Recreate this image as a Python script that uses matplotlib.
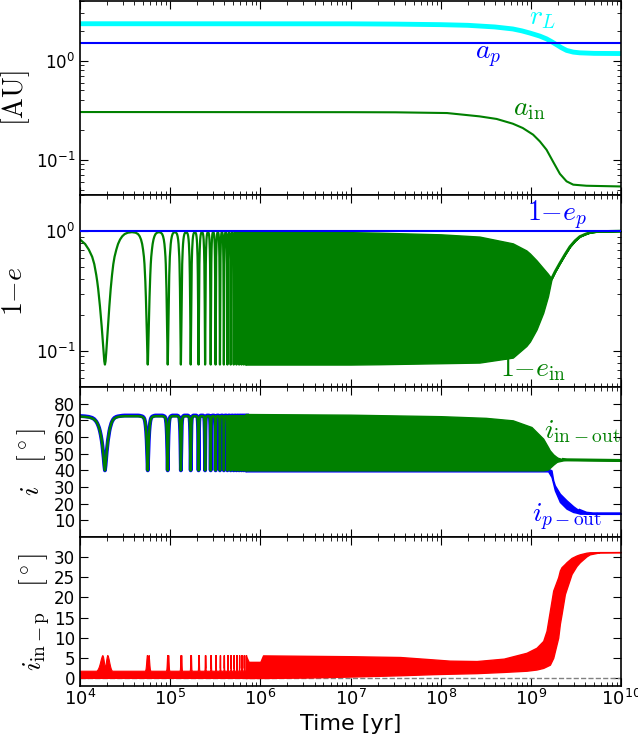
import numpy as np
import matplotlib
matplotlib.use('Agg')
import matplotlib.pyplot as plt
from matplotlib.ticker import LogLocator, NullFormatter

plt.rcParams['font.family'] = ['DejaVu Sans']
plt.rcParams['xtick.direction'] = 'in'
plt.rcParams['ytick.direction'] = 'in'
plt.rcParams['xtick.major.size'] = 6
plt.rcParams['ytick.major.size'] = 6
plt.rcParams['xtick.minor.size'] = 3
plt.rcParams['ytick.minor.size'] = 3
plt.rcParams['axes.linewidth'] = 1.2

# ---- panel 1: distances [AU] ----
a_p = 1.5
logt_rL = [4.0, 7.0, 7.5, 8.0, 8.3, 8.6, 8.8, 8.9, 8.99, 9.1, 9.174, 9.23, 9.285, 9.34, 9.396, 9.47, 9.543, 9.7, 10.0]
r_L = [2.36, 2.355, 2.34, 2.31, 2.275, 2.19, 2.09, 2.0, 1.90, 1.77, 1.66, 1.555, 1.45, 1.35, 1.27, 1.22, 1.20, 1.185, 1.18]
logt_ain = [4.0, 7.0, 7.5, 8.07, 8.43, 8.62, 8.80, 8.91, 9.025, 9.10, 9.174, 9.248, 9.322, 9.396, 9.47, 9.617, 10.0]
a_in = [0.303, 0.302, 0.301, 0.296, 0.274, 0.258, 0.231, 0.209, 0.179, 0.153, 0.126, 0.095, 0.072, 0.0605, 0.056, 0.0546, 0.0537]

# ---- resolved Kozai cycles (early times) ----
period = 3.75e4
dip_t = [1.89e4, 5.64e4, 9.39e4, 1.314e5, 1.689e5, 2.064e5, 2.439e5, 2.814e5, 3.189e5,
         3.564e5, 3.939e5, 4.314e5, 4.689e5, 5.064e5, 5.439e5, 5.814e5, 6.189e5,
         6.564e5, 6.939e5]
phase = [0, 0.008, 0.016, 0.024, 0.032, 0.04, 0.05, 0.06, 0.07, 0.08, 0.09, 0.1,
         0.12, 0.14, 0.17, 0.2, 0.237, 0.28, 0.33, 0.4, 0.5]
ein_prof = [0.077, 0.082, 0.095, 0.113, 0.135, 0.16, 0.195, 0.235, 0.28, 0.33, 0.38, 0.43,
            0.53, 0.61, 0.70, 0.78, 0.85, 0.905, 0.945, 0.97, 0.98]
iin_prof = [40, 43, 47.5, 51.5, 55, 58, 61, 63.5, 65.5, 67, 68.3, 69.3,
            70.5, 71.2, 71.8, 72.1, 72.3, 72.4, 72.5, 72.5, 72.5]
ip_prof = [40, 43, 47.5, 51.5, 55, 58, 61, 63.5, 65.5, 67, 68.3, 69.3,
           70.7, 71.5, 72.1, 72.4, 72.6, 72.8, 72.9, 72.9, 72.9]
rin_prof = [2.5, 3.3, 4.4, 5.3, 5.7, 5.4, 4.7, 3.8, 3.0, 2.4, 2.0, 1.8,
            1.8, 1.8, 1.8, 1.8, 1.8, 1.8, 1.8, 1.8, 1.8]

# ---- unresolved (dense) region envelopes ----
ep = 1.0
logt_e = [5.835, 7.0, 7.33, 8.0, 8.43, 8.80, 8.95, 8.99, 9.063, 9.137, 9.19, 9.23, 9.27, 9.322, 9.38, 9.433, 9.49, 9.543, 9.6, 9.65, 9.728, 10.0]
ein_hi = [0.985, 0.98, 0.97, 0.94, 0.90, 0.79, 0.69, 0.65, 0.57, 0.49, 0.44, 0.40, 0.46, 0.54, 0.64, 0.74, 0.83, 0.90, 0.94, 0.97, 0.99, 1.0]
ein_lo = [0.077, 0.077, 0.0775, 0.079, 0.080, 0.088, 0.11, 0.12, 0.151, 0.208, 0.286, 0.40, 0.46, 0.54, 0.64, 0.74, 0.83, 0.90, 0.94, 0.97, 0.99, 1.0]

logt_i = [5.835, 7.0, 8.0, 8.5, 8.80, 9.007, 9.137, 9.19, 9.21, 9.25, 9.285, 9.3, 9.36, 9.40, 10.0]
iin_hi = [73.8, 73.4, 72.5, 71.5, 70, 66, 59, 54, 52, 49.5, 48, 47.5, 46.6, 46.4, 46]
iin_lo = [40, 40, 40, 40, 40, 40, 40, 40.5, 41.5, 43.5, 45, 45.3, 46, 46.1, 46]

logt_ip = [5.835, 9.137, 9.192, 9.229, 9.248, 9.266, 9.322, 9.396, 9.469, 9.506, 9.543, 9.617, 9.691, 10.0]
ip_hi = [41, 41, 41, 40, 34, 31, 26, 22, 18.5, 17, 16, 14.4, 14, 14]
ip_lo = [39.4, 39.4, 39.4, 36, 32, 28, 21, 17, 15, 14.6, 14, 14, 14, 14]

logt_r = [5.835, 5.85, 5.87, 6.0, 6.03, 6.5, 7.0, 7.55, 7.92, 8.1, 8.4, 8.7, 8.952, 9.063, 9.137, 9.174,
          9.211, 9.248, 9.303, 9.322, 9.340, 9.377, 9.396, 9.451, 9.506, 9.543, 9.617, 9.654, 9.765, 10.0]
rin_hi = [5.6, 5.0, 4.0, 4.0, 5.6, 5.5, 5.4, 5.2, 4.6, 4.3, 4.2, 4.8, 6.25, 7.5, 9.2, 11.7,
          16.7, 21.7, 25.0, 26.7, 27.5, 28.3, 28.75, 29.8, 30.4, 30.7, 31.1, 31.2, 31.25, 31.25]
rin_lo = [0.0, 0.0, 0.0, 0.0, 0.0, 0.1, 0.35, 0.67, 0.95, 1.05, 1.2, 1.5, 1.8, 2.1, 2.5, 2.9,
          3.3, 5.0, 10.0, 13.5, 15.8, 20.8, 22.1, 25.8, 27.8, 28.75, 30.2, 30.7, 31.2, 31.25]


def cycles(prof):
    # lay the read profile of one cycle at each dip time
    ph = np.array(phase)
    pr = np.array(prof)
    xs, ys = [], []
    for k, t0 in enumerate(dip_t):
        keep = ph[::-1] <= (0.237 if k == 0 else 0.5)
        xs += list(t0 - ph[::-1][keep] * period) + list(t0 + ph[1:] * period)
        ys += list(pr[::-1][keep]) + list(pr[1:])
    return np.array(xs), np.array(ys)


def T(lt):
    return 10 ** np.array(lt)


fig = plt.figure(figsize=(6.38, 7.41), dpi=100)
L, W = 0.1254, 0.848
ax1 = fig.add_axes([L, 0.7368, W, 0.2618])
ax2 = fig.add_axes([L, 0.4777, W, 0.2591], sharex=ax1)
ax3 = fig.add_axes([L, 0.2753, W, 0.2024], sharex=ax1)
ax4 = fig.add_axes([L, 0.0742, W, 0.2011], sharex=ax1)

cm = dict(math_fontfamily='cm')

# panel 1
ax1.plot(T(logt_rL), r_L, color='cyan', lw=3.5)
ax1.axhline(a_p, color='b', lw=1.5)
ax1.plot(T(logt_ain), a_in, color='g', lw=1.5)
ax1.set_yscale('log')
ax1.set_ylim(0.044, 4.0)
ax1.set_ylabel(r'$[\mathrm{AU}]$', fontsize=20, **cm)
ax1.yaxis.set_label_coords(-0.089, 0.5)
ax1.text(1.35e9, 2.75, r'$r_L$', color='cyan', fontsize=20, ha='center', va='center', **cm)
ax1.text(3.4e8, 1.12, r'$a_p$', color='b', fontsize=20, ha='center', va='center', **cm)
ax1.text(9.5e8, 0.33, r'$a_{\rm in}$', color='g', fontsize=20, ha='center', va='center', **cm)

# panel 2
x, y = cycles(ein_prof)
ax2.plot(x, y, color='g', lw=1.6, zorder=2)
ax2.fill_between(T(logt_e), ein_lo, ein_hi, color='g', lw=1, zorder=2)
ax2.plot(T(logt_e[11:]), ein_hi[11:], color='g', lw=2, zorder=2)
ax2.axhline(ep, color='b', lw=1.5, zorder=3)
ax2.set_yscale('log')
ax2.set_ylim(0.05, 2.0)
ax2.set_ylabel(r'$1{-}e$', fontsize=20, **cm)
ax2.yaxis.set_label_coords(-0.096, 0.5)
ax2.text(1.95e9, 1.36, r'$1{-}e_p$', color='b', fontsize=20, ha='center', va='center', **cm)
ax2.text(1.05e9, 0.071, r'$1{-}e_{\rm in}$', color='g', fontsize=20, ha='center', va='center', **cm)

# panel 3
x, y = cycles(ip_prof)
ax3.plot(x, y, color='b', lw=2.8, zorder=2)
ax3.fill_between(T(logt_ip), ip_lo, ip_hi, color='b', lw=1, zorder=2)
ax3.plot(T(logt_ip[-4:]), ip_hi[-4:], color='b', lw=2, zorder=2)
x, y = cycles(iin_prof)
ax3.plot(x, y, color='g', lw=1.8, zorder=2)
ax3.fill_between(T(logt_i), iin_lo, iin_hi, color='g', lw=1, zorder=2)
ax3.plot(T(logt_i[-3:]), iin_hi[-3:], color='g', lw=2, zorder=2)
ax3.set_ylim(0, 90)
ax3.set_yticks(range(10, 90, 10))
ax3.set_ylabel(r'$i\quad[^\circ]$', fontsize=20, **cm)
ax3.yaxis.set_label_coords(-0.059, 0.5)
ax3.text(3.7e9, 63.5, r'$i_{\rm in-out}$', color='g', fontsize=20, ha='center', va='center', **cm)
ax3.text(2.54e9, 11.5, r'$i_{p-\rm out}$', color='b', fontsize=20, ha='center', va='center', **cm)

# panel 4
ax4.axhline(0, color='gray', lw=1, ls='--')
x, y = cycles(rin_prof)
ax4.fill_between(x, 0, y, color='r', lw=0.8, zorder=2)
ax4.fill_between(T(logt_r), rin_lo, rin_hi, color='r', lw=1, zorder=2)
ax4.set_ylim(-2, 35)
ax4.set_yticks(range(0, 35, 5))
ax4.set_ylabel(r'$i_{\rm in-p}\quad[^\circ]$', fontsize=20, **cm)
ax4.yaxis.set_label_coords(-0.052, 0.5)

ax4.set_xscale('log')
ax4.set_xlim(1e4, 1e10)
ax4.xaxis.set_major_locator(LogLocator(base=10, numticks=10))
ax4.xaxis.set_minor_locator(LogLocator(base=10, subs=np.arange(2, 10), numticks=100))
ax4.xaxis.set_minor_formatter(NullFormatter())
ax4.set_xlabel('Time [yr]', fontsize=16, labelpad=4)

for ax in [ax1, ax2, ax3, ax4]:
    ax.tick_params(labelsize=12)
    ax.tick_params(which='both', top=True, right=True, direction='in')
for ax in [ax1, ax2, ax3]:
    plt.setp(ax.get_xticklabels(), visible=False)
ax4.tick_params(axis='x', labelsize=13, pad=2)

fig.savefig('out.png', dpi=100)
